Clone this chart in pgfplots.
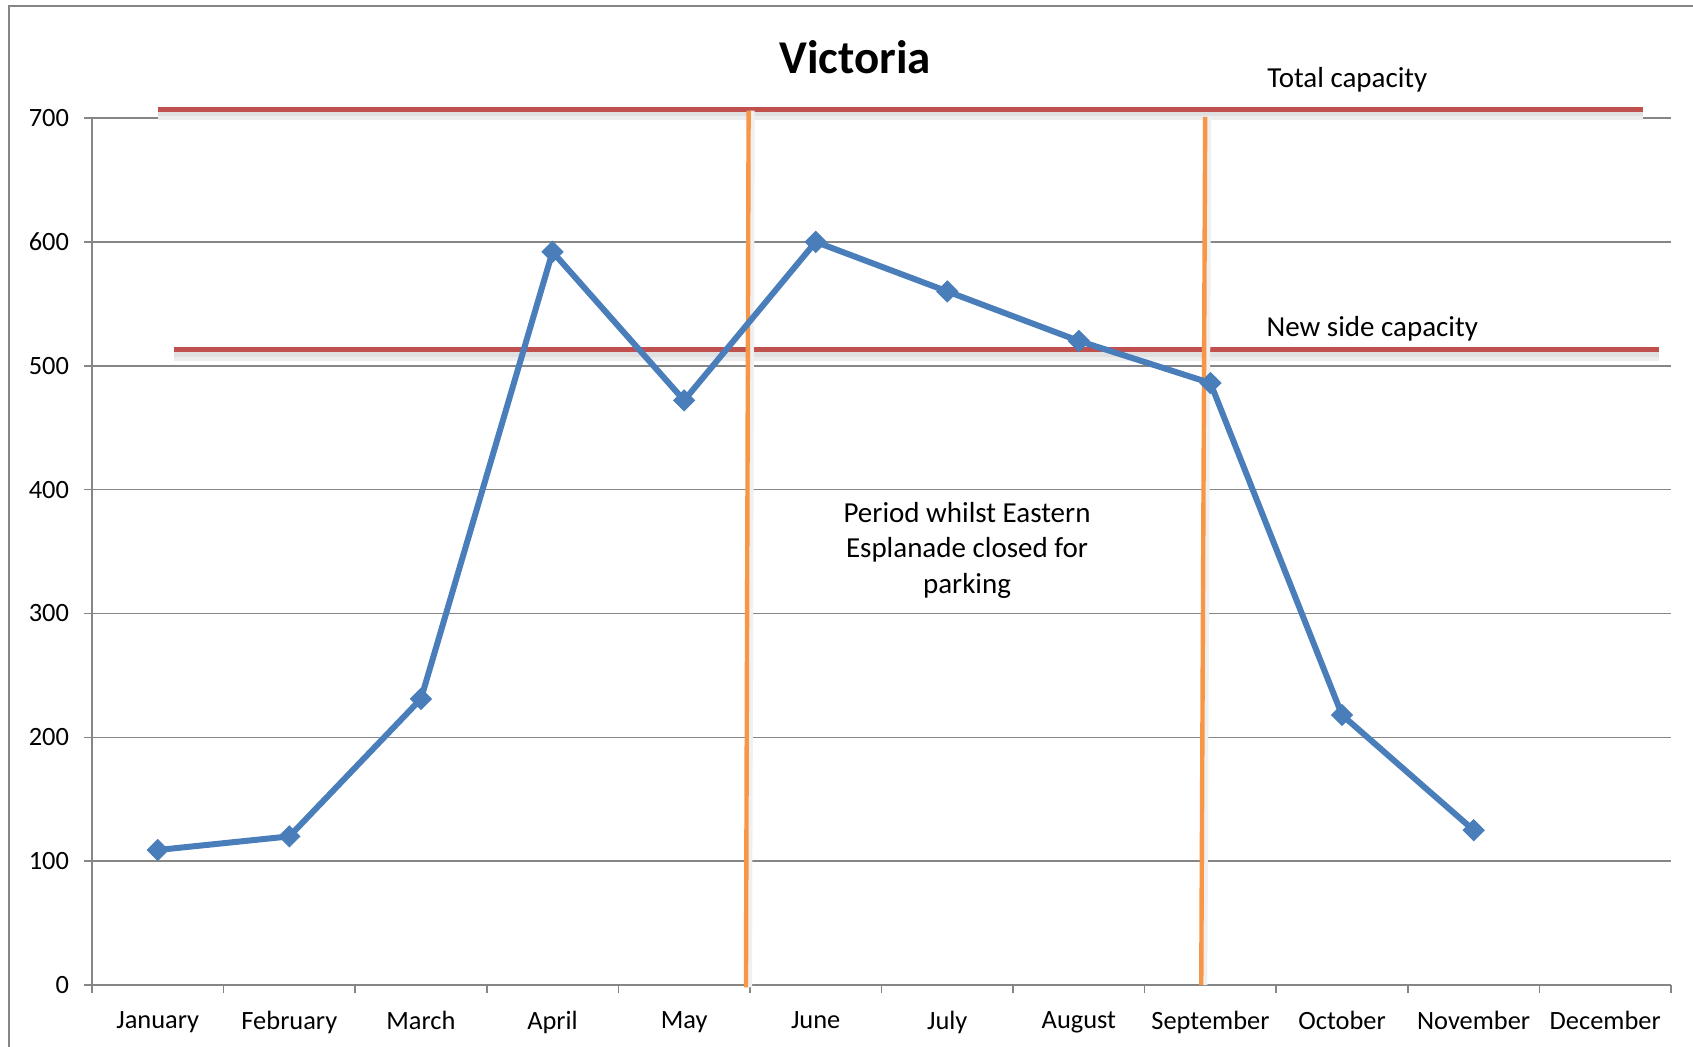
\documentclass[border=0pt]{standalone}
\usepackage{pgfplots}
\pgfplotsset{compat=1.18}
\usepackage{fontspec}
\setmainfont{Carlito}
\definecolor{xlblue}{HTML}{4A7EBB}
\definecolor{xlred}{HTML}{C0504D}
\definecolor{xlorange}{HTML}{F79646}
\definecolor{gridgray}{HTML}{868686}
\begin{document}
\begin{tikzpicture}
\useasboundingbox (0,0) rectangle (846.5pt,-523pt);
\draw[gridgray, line width=0.8pt] (4.5pt,-540pt) -- (4.5pt,-3pt) -- (860pt,-3pt);
\begin{axis}[
  at={(46pt,-492.5pt)}, anchor=south west,
  scale only axis, width=789.5pt, height=433.5pt,
  xmin=0.5, xmax=12.5, ymin=0, ymax=700,
  clip=false,
  axis x line=bottom, axis y line=left,
  axis line style={gridgray, line width=0.8pt, -},
  xtick={0.5,1.5,...,12.5}, x tick label as interval,
  xticklabels={January,February,March,April,May,June,July,August,September,October,November,December},
  ytick={0,100,...,700},
  ymajorgrids, grid style={gridgray, line width=0.8pt},
  tick style={gridgray, line width=0.8pt},
  tick align=outside, major tick length=4pt,
  tick label style={font=\fontsize{13.2}{15}\selectfont, black},
  yticklabel style={xshift=-4pt},
  xticklabel style={yshift=-5.6pt},
  /pgf/number format/assume math mode=true,
]
% capacity lines (soft shadow + line)
\addplot[black!7, line width=5pt, yshift=-3pt, forget plot] coordinates {(1.0,707) (12.29,707)};
\addplot[black!12, line width=2.5pt, yshift=-2.2pt, forget plot] coordinates {(1.0,707) (12.29,707)};
\addplot[xlred, line width=2.8pt] coordinates {(1.0,707) (12.29,707)};
\addplot[black!7, line width=5pt, yshift=-3pt, forget plot] coordinates {(1.12,513) (12.41,513)};
\addplot[black!12, line width=2.5pt, yshift=-2.2pt, forget plot] coordinates {(1.12,513) (12.41,513)};
\addplot[xlred, line width=2.8pt] coordinates {(1.12,513) (12.41,513)};
% period lines
\addplot[black!6, line width=2.5pt, xshift=1.8pt, forget plot] coordinates {(5.49,706) (5.47,-2)};
\addplot[xlorange, line width=2.2pt] coordinates {(5.49,706) (5.47,-2)};
\addplot[black!6, line width=2.5pt, xshift=1.8pt, forget plot] coordinates {(8.96,701) (8.93,0)};
\addplot[xlorange, line width=2.2pt] coordinates {(8.96,701) (8.93,0)};
% data
\addplot[xlblue, line width=3pt, mark=square*, mark size=3.7pt, mark options={rotate=45, fill=xlblue, draw=xlblue, line width=0.5pt}] coordinates {
(1,109) (2,120) (3,231) (4,592) (5,472) (6,600) (7,560) (8,520) (9,486) (10,218) (11,125)
};
\node[font=\fontsize{14.5}{17}\selectfont] at (axis cs:10.04,731) {Total capacity};
\node[font=\fontsize{14.5}{17}\selectfont] at (axis cs:10.23,530) {New side capacity};
\node[font=\fontsize{14.5}{17.8}\selectfont, align=center] at (axis cs:7.15,351) {Period whilst Eastern\\Esplanade closed for\\parking};
\end{axis}
\node[font=\bfseries\fontsize{23.5}{28}\selectfont] at (427.5pt,-28.5pt) {Victoria};
\end{tikzpicture}
\end{document}
